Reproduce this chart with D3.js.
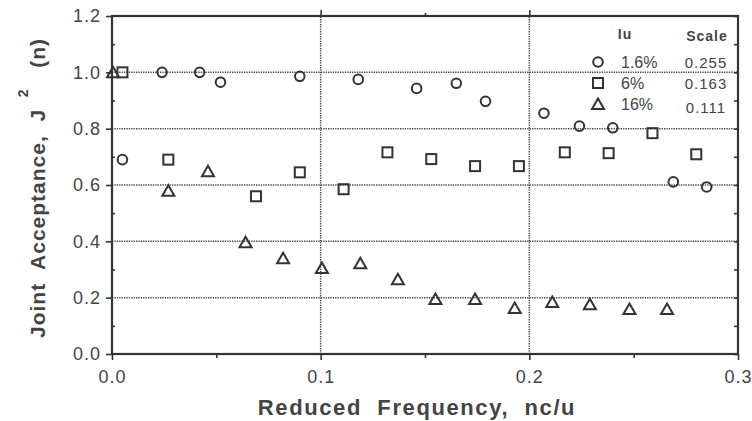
<!DOCTYPE html>
<html>
<head>
<meta charset="utf-8">
<script src="https://cdn.jsdelivr.net/npm/d3@7"></script>
<style>
  body { margin: 0; background: #fff; }
  svg { display: block; font-family: "Liberation Sans", Arial, Helvetica, sans-serif; }
  text { white-space: pre; }
</style>
</head>
<body>
<svg id="chart" width="752" height="421"></svg>
<script>
// values
var circleX = [0.005, 0.024, 0.042, 0.052, 0.090, 0.118, 0.146, 0.165, 0.179, 0.207, 0.224, 0.240, 0.269, 0.285];
var circleY = [0.69, 1.0, 1.0, 0.965, 0.986, 0.975, 0.943, 0.961, 0.897, 0.855, 0.809, 0.803, 0.611, 0.593];

var squareX = [0.005, 0.027, 0.069, 0.090, 0.111, 0.132, 0.153, 0.174, 0.195, 0.217, 0.238, 0.259, 0.280];
var squareY = [1.0, 0.69, 0.56, 0.645, 0.585, 0.716, 0.692, 0.667, 0.667, 0.716, 0.713, 0.784, 0.709];

var triangleX = [0.0005, 0.027, 0.046, 0.064, 0.082, 0.1006, 0.119, 0.137, 0.155, 0.174, 0.193, 0.211, 0.229, 0.248, 0.266];
var triangleY = [1.0, 0.58, 0.649, 0.397, 0.34, 0.305, 0.322, 0.265, 0.195, 0.195, 0.163, 0.185, 0.177, 0.16, 0.16];

var xTicks = [0, 0.1, 0.2, 0.3];
var xMinor = [0.05, 0.15, 0.25];
var yTicks = [0, 0.2, 0.4, 0.6, 0.8, 1.0, 1.2];
var yMinor = [0.1, 0.3, 0.5, 0.7, 0.9, 1.1];
var xGrid = [0.1, 0.2];
var yGrid = [0.2, 0.4, 0.6, 0.8, 1.0];

var legendShapes = ['circle', 'square', 'triangle'];
var legendLabels = ['1.6%', '6%', '16%'];
var legendScales = ['0.255', '0.163', '0.111'];

var ink = '#333';
var svg = d3.select('#chart');
var x = d3.scaleLinear().domain([0, 0.3]).range([112, 738]);
var y = d3.scaleLinear().domain([0, 1.2]).range([354, 16]);

// dotted grid
var grid = svg.append('g')
    .style('stroke', '#444')
    .style('stroke-width', 1.5)
    .style('stroke-dasharray', '1.3,1.1');
grid.selectAll('.hgrid').data(yGrid).enter().append('line')
    .attr('x1', x(0)).attr('x2', x(0.3))
    .attr('y1', function(d){ return y(d); })
    .attr('y2', function(d){ return y(d); });
grid.selectAll('.vgrid').data(xGrid).enter().append('line')
    .attr('y1', y(0)).attr('y2', y(1.2))
    .attr('x1', function(d){ return x(d); })
    .attr('x2', function(d){ return x(d); });

// axes
var tickFont = function(g) {
  g.select('.domain').remove();
  g.selectAll('line').style('stroke', ink).style('stroke-width', 1.6);
  g.selectAll('text').style('font-size', '18px').style('fill', '#444')
      .style('letter-spacing', '1px');
};
svg.append('g')
    .attr('transform', 'translate(0,' + y(0) + ')')
    .call(d3.axisBottom(x).tickValues(xTicks).tickSize(6).tickPadding(10)
        .tickFormat(d3.format('.1f')))
    .call(tickFont);
svg.append('g')
    .attr('transform', 'translate(' + x(0) + ',0)')
    .call(d3.axisLeft(y).tickValues(yTicks).tickSize(6).tickPadding(5)
        .tickFormat(d3.format('.1f')))
    .call(tickFont);
svg.append('g')
    .attr('transform', 'translate(0,' + y(0) + ')')
    .call(d3.axisBottom(x).tickValues(xMinor).tickSize(4).tickFormat(''))
    .call(tickFont);
svg.append('g')
    .attr('transform', 'translate(0,' + y(1.2) + ')')
    .call(d3.axisTop(x).tickValues(xGrid).tickSize(6).tickFormat(''))
    .call(tickFont);
svg.append('g')
    .attr('transform', 'translate(0,' + y(1.2) + ')')
    .call(d3.axisTop(x).tickValues([0.15]).tickSize(3).tickFormat(''))
    .call(tickFont);
svg.append('g')
    .attr('transform', 'translate(' + x(0) + ',0)')
    .call(d3.axisRight(y).tickValues(yMinor).tickSize(3).tickFormat(''))
    .call(tickFont);
svg.append('g')
    .attr('transform', 'translate(' + x(0.3) + ',0)')
    .call(d3.axisLeft(y).tickValues(yTicks.concat(yMinor)).tickSize(4).tickFormat(''))
    .call(tickFont);

// frame
svg.append('rect')
    .attr('x', x(0)).attr('y', y(1.2))
    .attr('width', x(0.3) - x(0)).attr('height', y(0) - y(1.2))
    .style('fill', 'none').style('stroke', ink).style('stroke-width', 2.2);

// markers
function marker(sel, shape) {
  if (shape === 'circle') {
    sel.append('circle').attr('r', 4.8);
  } else if (shape === 'square') {
    sel.append('rect').attr('x', -5).attr('y', -5).attr('width', 10).attr('height', 10);
  } else {
    sel.append('path').attr('d', 'M0,-5.5L6,5L-6,5Z');
  }
}
var series = [
  {shape: 'circle', xs: circleX, ys: circleY},
  {shape: 'square', xs: squareX, ys: squareY},
  {shape: 'triangle', xs: triangleX, ys: triangleY}
];
series.forEach(function(s) {
  var pts = s.xs.map(function(v, i){ return [v, s.ys[i]]; });
  svg.append('g').selectAll('g').data(pts).enter().append('g')
      .attr('transform', function(d){ return 'translate(' + x(d[0]) + ',' + y(d[1]) + ')'; })
      .style('fill', 'none').style('stroke', ink).style('stroke-width', 2)
      .each(function(){ marker(d3.select(this), s.shape); });
});

// legend
var legend = svg.append('g');
legend.append('text').attr('x', 625).attr('y', 39).attr('text-anchor', 'middle')
    .style('font-size', '14px').style('font-weight', 'bold').style('fill', '#444')
    .style('letter-spacing', '1px').text('Iu');
legend.append('text').attr('x', 707).attr('y', 41).attr('text-anchor', 'middle')
    .style('font-size', '14px').style('font-weight', 'bold').style('fill', '#444')
    .style('letter-spacing', '1px').text('Scale');
var rowY = [62, 83, 104];
legendShapes.forEach(function(shape, i) {
  var g = legend.append('g').attr('transform', 'translate(598,' + rowY[i] + ')')
      .style('fill', 'none').style('stroke', ink).style('stroke-width', 2);
  marker(g, shape);
  legend.append('text').attr('x', 621).attr('y', rowY[i] + 6)
      .style('font-size', '16px').style('fill', '#444').text(legendLabels[i]);
  legend.append('text').attr('x', 706).attr('y', rowY[i] + 6 + (i === 2 ? 3 : 0))
      .attr('text-anchor', 'middle')
      .style('font-size', '15px').style('fill', '#444').style('letter-spacing', '1px')
      .text(legendScales[i]);
});

// axis titles
svg.append('text')
    .attr('x', 417).attr('y', 415).attr('text-anchor', 'middle')
    .style('font-size', '22px').style('font-weight', 'bold').style('fill', '#444')
    .style('letter-spacing', '1.6px')
    .text('Reduced  Frequency,  nc/u');

var yt = svg.append('text')
    .attr('transform', 'translate(45,188) rotate(-90)')
    .attr('text-anchor', 'middle')
    .style('font-size', '21px').style('font-weight', 'bold').style('fill', '#444')
    .style('letter-spacing', '1px');
yt.append('tspan').text('Joint  Acceptance,  J ');
yt.append('tspan').attr('dy', -17).style('font-size', '14px').text(' 2');
yt.append('tspan').attr('dy', 17).text('   (n)');
</script>
</body>
</html>
